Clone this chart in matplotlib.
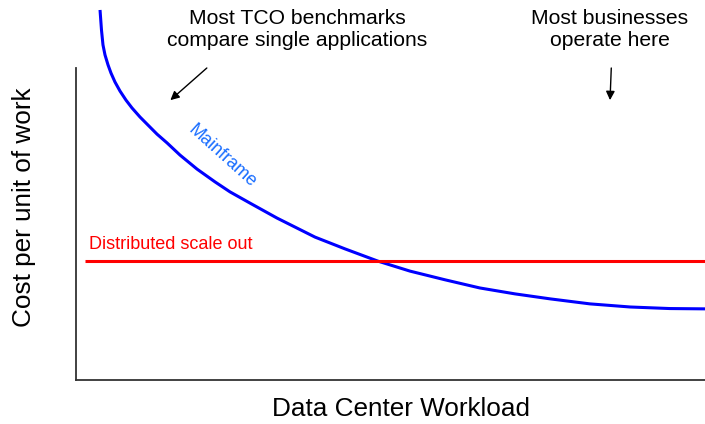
import matplotlib
matplotlib.use("Agg")
import matplotlib.pyplot as plt

plt.rcParams['font.family'] = ['Liberation Sans', 'DejaVu Sans']

# Values (workload 0-100, cost 0-100 on the axes)
workload = [3.82, 4.05, 4.29, 4.61, 5.09, 5.56, 6.20, 7.00, 7.95, 8.90, 10.17,
            11.45, 12.88, 14.47, 16.53, 19.24, 22.10, 24.48, 27.66, 31.96,
            38.0, 42.8, 48.0, 53.1, 58.7, 64.2, 69.8, 75.4, 81.7, 88.1, 94.4,
            100.0]
mainframe_cost = [118.6, 112.2, 107.4, 104.2, 101.0, 98.4, 95.5, 92.6, 89.7,
                  87.2, 84.3, 81.7, 78.8, 76.0, 72.1, 67.6, 63.5, 60.3, 56.7,
                  51.9, 45.8, 42.0, 38.1, 34.9, 32.1, 29.5, 27.6, 26.0, 24.4,
                  23.4, 22.9, 22.8]
distributed_x = [1.4, 100.0]
distributed_cost = [38.1, 38.1]

fig = plt.figure(figsize=(7.05, 4.24), dpi=100)
ax = fig.add_axes([76 / 705, 44 / 424, 629 / 705, 312 / 424])

ax.plot(workload, mainframe_cost, color="#0000ff", lw=2.2, clip_on=False,
        solid_capstyle="butt")
ax.plot(distributed_x, distributed_cost, color="#ff0000", lw=2.2, clip_on=False,
        solid_capstyle="butt")

ax.set_xlim(0, 100)
ax.set_ylim(0, 100)
ax.set_xticks([])
ax.set_yticks([])
for side in ["top", "right"]:
    ax.spines[side].set_visible(False)
for side in ["left", "bottom"]:
    ax.spines[side].set_color("#333333")
    ax.spines[side].set_linewidth(1.3)

ax.set_xlabel("Data Center Workload", fontsize=18.8)
ax.set_ylabel("Cost per unit of work", fontsize=18.8)
ax.xaxis.set_label_coords(0.517, -0.056)
ax.yaxis.set_label_coords(-0.064, 0.553)

# series labels
ax.text(2.0, 43.4, "Distributed scale out", color="#ff0000", fontsize=13,
        va="center", ha="left")
ax.text(23.2, 71.6, "Mainframe", color="#1a6eff", fontsize=13,
        rotation=-42, ha="center", va="center", rotation_mode="anchor")

# annotations
ax.annotate("", xy=(15.0, 89.7), xytext=(20.8, 100.0),
            arrowprops=dict(arrowstyle="-|>", color="black", lw=1.0,
                            mutation_scale=13, shrinkA=0, shrinkB=0),
            annotation_clip=False)
ax.annotate("", xy=(84.9, 89.7), xytext=(85.1, 100.0),
            arrowprops=dict(arrowstyle="-|>", color="black", lw=1.0,
                            mutation_scale=13, shrinkA=0, shrinkB=0),
            annotation_clip=False)
ax.text(35.2, 112.3, "Most TCO benchmarks\ncompare single applications",
        fontsize=15.2, ha="center", va="center", linespacing=1.15)
ax.text(84.9, 112.3, "Most businesses\noperate here",
        fontsize=15.2, ha="center", va="center", linespacing=1.15)

fig.savefig("out.png", dpi=100)
